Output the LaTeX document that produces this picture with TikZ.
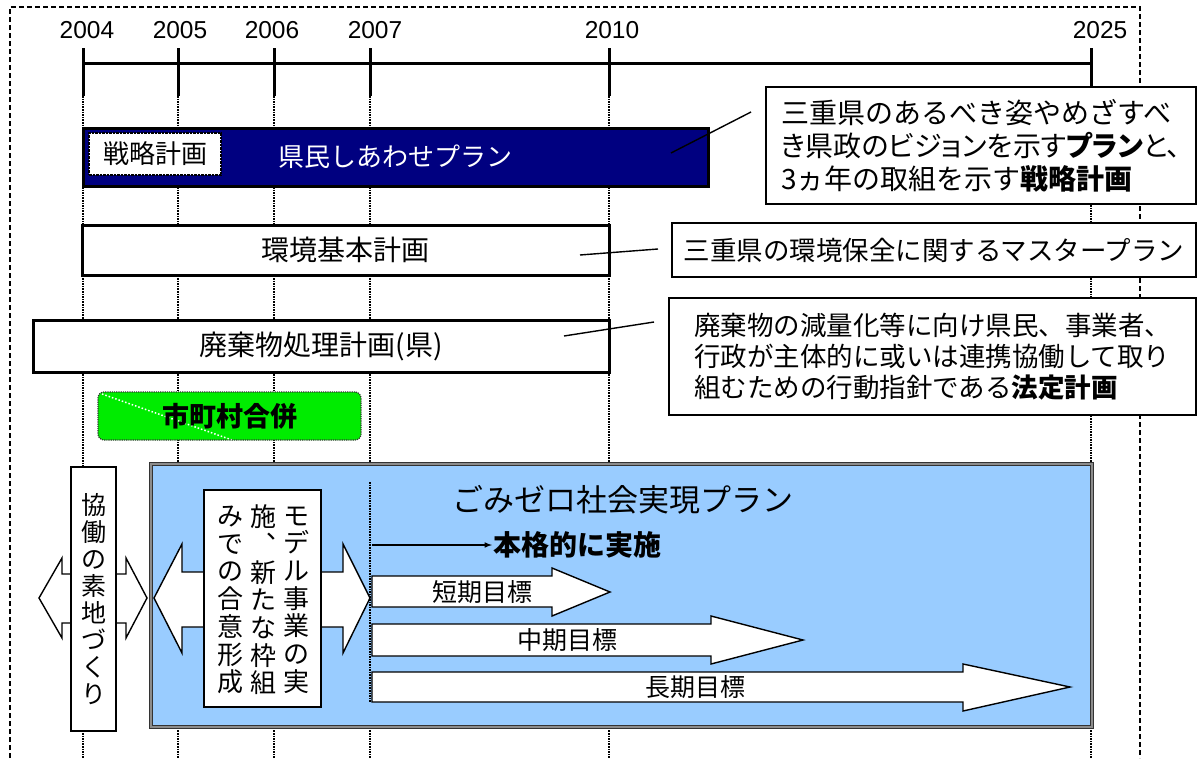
\documentclass[tikz,border=0pt]{standalone}
\usepackage{fontspec}
\setmainfont{Liberation Sans}
\newfontfamily\jp{Noto Sans CJK JP}
\newfontfamily\jpp[RawFeature=+palt]{Noto Sans CJK JP}
\usepackage{xcolor}
\usepackage{tikz}
\usetikzlibrary{calc}

\definecolor{plannavy}{RGB}{0,0,128}
\definecolor{zeroblue}{RGB}{153,204,255}
\definecolor{mergegreen}{RGB}{0,236,0}

\begin{document}
\begin{tikzpicture}[x=1pt,y=-1pt,>=latex,
		yearlabel/.style={font=\fontsize{24.5}{24.5}\selectfont},
		yearline/.style={densely dotted,line width=1.6pt},
		bar/.style={draw=black!100,line width=3pt,fill=white,inner sep=0pt},
		note/.style={draw=black!100,line width=1.2pt,fill=white,inner sep=0pt},
		lead/.style={line width=1.4pt},
		blockarrow/.style={draw=black!100,line width=1.4pt,fill=white,line join=miter},
		vcol/.style={align=center,inner sep=0pt,font={\jp\fontsize{26}{27.7}\selectfont}}]
		\useasboundingbox (0,0) rectangle (1197,758);

		% frame
		\draw[dash pattern=on 5pt off 3pt,line width=1.4pt] (10,758) -- (10,7) -- (1140,7) -- (1140,758);

		% time axis
		\foreach \yr/\x/\lx in {2004/83/87,2005/178/180,2006/274/272,2007/370/375,2010/609/612,2025/1091/1100}{
			\node at (\lx,30) (y\yr) [yearlabel] {\yr};
			\draw[line width=3pt] (\x,48) -- (\x,96);
			\draw[yearline] (\x,96) -- (\x,758);
		}
		\draw[line width=3pt] (83,63) -- (1091,63);

		% plans
		\node at (395.5,157) (kenmin) [bar,fill=plannavy,minimum width=625pt,minimum height=58pt,text=white,font={\jp\fontsize{26}{26}\selectfont}] {県民しあわせプラン};
		\node at (155,154) (senryaku) [draw=black!100,densely dotted,line width=2.5pt,fill=white,inner sep=0pt,minimum width=132pt,minimum height=42pt,font={\jp\fontsize{26}{26}\selectfont}] {戦略計画};
		\node at (345.5,250) (kankyo) [bar,minimum width=527pt,minimum height=50pt,font={\jp\fontsize{28}{28}\selectfont}] {環境基本計画};
		\node at (321,346) (haiki) [bar,minimum width=576pt,minimum height=52pt,font={\jp\fontsize{28}{28}\selectfont}] {廃棄物処理計画(県)};

		% notes
		\node at (981,145.5) (note1) [note,minimum width=430pt,minimum height=117pt,align=left,font={\jp\fontsize{28}{33}\selectfont}] {三重県のあるべき姿やめざすべ\\{\jpp き県政のビジョンを示す\textbf{プラン}と、}\\3ヵ年の取組を示す\textbf{戦略計画}};
		\node at (934,250) (note2) [note,minimum width=524pt,minimum height=54pt,font={\jp\fontsize{26.5}{26.5}\selectfont}] {三重県の環境保全に関するマスタープラン};
		\node at (932.5,356.5) (note3) [note,minimum width=527pt,minimum height=117pt,align=left,font={\jp\fontsize{26.5}{31}\selectfont}] {廃棄物の減量化等に向け県民、事業者、\\行政が主体的に或いは連携協働して取り\\組むための行動指針である\textbf{法定計画}};
		\coordinate (lead1a) at (671,153);
		\coordinate (lead1b) at (751,112);
		\coordinate (lead2a) at (580,255);
		\coordinate (lead2b) at (658,249);
		\coordinate (lead3a) at (564,336);
		\coordinate (lead3b) at (654,322);
		\draw[lead] (lead1a) -- (lead1b);
		\draw[lead] (lead2a) -- (lead2b);
		\draw[lead] (lead3a) -- (lead3b);

		% merger
		\node at (229.5,416) (gappei) [draw=black!80,densely dotted,line width=1.2pt,fill=mergegreen,rounded corners=6pt,minimum width=263pt,minimum height=48pt,font={\jp\bfseries\fontsize{27}{27}\selectfont},
			path picture={\draw[white,densely dotted,line width=1.5pt,solid,dotted] ($(path picture bounding box.north west)+(4,2)$) -- ($(path picture bounding box.south west)+(134,0)$);}] {市町村合併};

		% groundwork
		\draw[blockarrow] (39,598) -- (62,558) -- (62,574) -- (126,574) -- (126,558) -- (147,598) -- (126,638) -- (126,623) -- (62,623) -- (62,638) -- cycle;
		\node at (93.5,599) (kyodo) [draw=black!100,line width=1.4pt,fill=white,inner sep=0pt,minimum width=45pt,minimum height=264pt,align=center,font={\jp\fontsize{25}{27}\selectfont}] {協\\働\\の\\素\\地\\づ\\く\\り};

		% zero waste plan
		\node at (621.5,595.5) (zeroplan) [draw=black!80,line width=1.3pt,double=black!45,double distance=1.4pt,fill=zeroblue,minimum width=941pt,minimum height=263pt] {};
		\draw[yearline] (370,482) -- (370,702);
		\node at (623,500) (zerotitle) [font={\jp\fontsize{31}{31}\selectfont}] {ごみゼロ社会実現プラン};

		\draw[blockarrow] (154,598) -- (182,544) -- (182,572) -- (343,572) -- (343,544) -- (370,598) -- (343,653) -- (343,627) -- (182,627) -- (182,653) -- cycle;
		\node at (262.5,598.5) (model) [draw=black!100,line width=1.4pt,fill=white,minimum width=117pt,minimum height=217pt] {};
		\node at (296,600) (model1) [vcol] {モ\\デ\\ル\\事\\業\\の\\実};
		\node at (263,600) (model2) [vcol] {施\\︑\\新\\た\\な\\枠\\組};
		\node at (230,600) (model3) [vcol] {み\\で\\の\\合\\意\\形\\成};

		\node at (492,545) (honkaku) [anchor=west,inner sep=1pt,font={\jp\bfseries\fontsize{28}{28}\selectfont}] {本格的に実施};
		\coordinate (honstart) at (372,545);
		\draw[->,line width=1.5pt] (honstart) -- (honkaku.west);

		% targets
		\draw[blockarrow] (372,576) -- (552,576) -- (552,568) -- (610,592) -- (552,616) -- (552,607) -- (372,607) -- cycle;
		\node at (482,592) (tanki) [font={\jp\fontsize{25}{25}\selectfont}] {短期目標};
		\draw[blockarrow] (372,624) -- (711,624) -- (711,616) -- (803,640) -- (711,664) -- (711,656) -- (372,656) -- cycle;
		\node at (567,640) (chuki) [font={\jp\fontsize{25}{25}\selectfont}] {中期目標};
		\draw[blockarrow] (372,672) -- (963,672) -- (963,664) -- (1070,687) -- (963,711) -- (963,702) -- (372,702) -- cycle;
		\node at (695,687) (choki) [font={\jp\fontsize{25}{25}\selectfont}] {長期目標};
	\end{tikzpicture}
\end{document}
